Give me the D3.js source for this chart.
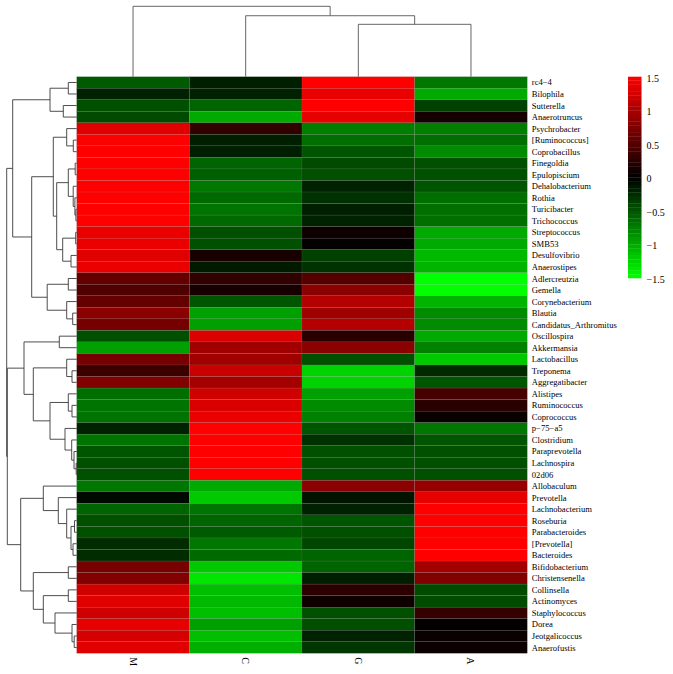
<!DOCTYPE html>
<html><head><meta charset="utf-8">
<script src="https://cdn.jsdelivr.net/npm/d3@7"></script>
<style>
body{margin:0;background:#fff;}
text{font-family:"Liberation Serif","DejaVu Serif",serif;fill:#000;}
</style>
</head><body>
<svg id="chart" width="673" height="674"></svg>
<script>
// ---------- data ----------
const rowNames = ["rc4\u22124","Bilophila","Sutterella","Anaerotruncus","Psychrobacter","[Ruminococcus]","Coprobacillus","Finegoldia","Epulopiscium","Dehalobacterium","Rothia","Turicibacter","Trichococcus","Streptococcus","SMB53","Desulfovibrio","Anaerostipes","Adlercreutzia","Gemella","Corynebacterium","Blautia","Candidatus_Arthromitus","Oscillospira","Akkermansia","Lactobacillus","Treponema","Aggregatibacter","Alistipes","Ruminococcus","Coprococcus","p\u221275\u2212a5","Clostridium","Paraprevotella","Lachnospira","02d06","Allobaculum","Prevotella","Lachnobacterium","Roseburia","Parabacteroides","[Prevotella]","Bacteroides","Bifidobacterium","Christensenella","Collinsella","Actinomyces","Staphylococcus","Dorea","Jeotgalicoccus","Anaerofustis"];
const colNames = ["M","C","G","A"];
const valM = [-0.53,-0.2,-0.47,-0.44,1.32,1.5,1.5,1.5,1.5,1.5,1.5,1.5,1.5,1.38,1.38,1.32,1.38,0.59,0.47,0.59,0.82,0.68,-0.47,-0.94,0.7,0.35,0.76,-0.65,-0.68,-0.68,-0.2,-0.68,-0.5,-0.47,-0.47,-0.7,-0.05,-0.59,-0.47,-0.47,-0.26,-0.26,0.7,0.76,1.21,1.32,1.21,1.35,1.26,1.32];
const valC = [-0.18,-0.2,-0.59,-1.0,0.29,-0.18,-0.18,-0.59,-0.56,-0.7,-0.62,-0.68,-0.62,-0.47,-0.47,0.15,-0.15,0.29,0.15,-0.5,-0.94,-0.94,1.29,0.94,0.94,1.18,0.97,1.21,1.29,1.38,1.5,1.5,1.5,1.5,1.5,-1.0,-1.18,-0.68,-0.59,-0.53,-0.7,-0.62,-1.18,-1.35,-1.12,-1.09,-1.12,-0.94,-1.12,-1.03];
const valG = [1.5,1.38,1.5,1.35,-0.74,-0.65,-0.5,-0.44,-0.47,-0.2,-0.29,-0.18,-0.2,0.09,0.03,-0.38,-0.29,0.5,0.82,1.06,0.94,1.06,0.24,0.82,-0.47,-1.24,-1.24,-0.94,-0.82,-0.76,-0.5,-0.29,-0.47,-0.47,-0.47,0.82,-0.12,-0.2,-0.5,-0.47,-0.41,-0.59,-0.59,-0.18,0.26,0.09,-0.47,-0.47,-0.2,-0.32];
const valA = [-0.7,-1.0,-0.38,0.12,-0.74,-0.65,-0.82,-0.47,-0.47,-0.5,-0.65,-0.65,-0.65,-1.0,-1.0,-1.09,-1.06,-1.5,-1.5,-1.06,-0.82,-0.82,-1.0,-0.76,-1.18,-0.24,-0.5,0.41,0.24,0.06,-0.7,-0.5,-0.47,-0.47,-0.47,0.88,1.35,1.5,1.5,1.5,1.5,1.5,0.97,0.76,-0.44,-0.44,0.32,0.02,0.06,0.06];
const legendTicks = [1.5,1,0.5,0,-0.5,-1,-1.5];
const legendLabels = ["1.5","1","0.5","0","\u22120.5","\u22121","\u22121.5"];

// dendrograms: [height, left, right]; leaves are names
const colTree = [10, "M", [8.66, "C", [7.44, "G", "A"]]];
const R = rowNames;
const rowTree = [70,
  [64,
    [26.7, [8.4, R[0], R[1]], [13.4, R[2], R[3]]],
    [45,
      [23.4,
        [10, R[4], [3.4, R[5], R[6]]],
        [20,
          [8.4, [1.5, R[7], R[8]], [3.5, R[9], [1.8, R[10], [0.8, R[11], R[12]]]]],
          [14, [1, R[13], R[14]], [5.7, R[15], R[16]]]]],
      [29.5, [8.4, R[17], R[18]], [10, R[19], [4, R[20], R[21]]]]]],
  [69.4,
    [52.7,
      [17.4, R[22], R[23]],
      [43.4,
        [10, R[24], [4.7, R[25], R[26]]],
        [26.7,
          [8.4, R[27], [4.7, R[28], R[29]]],
          [11.7, R[30], [5, R[31], [2.7, R[32], [0.5, R[33], R[34]]]]]]]],
    [56,
      [33.4, R[35], [18.4, R[36], [10, R[37], [5.7, [2.2, R[38], R[39]], [3.7, R[40], R[41]]]]]],
      [43.4, [8.4, R[42], R[43]], [33.4, [8.4, R[44], R[45]], [21.7, R[46], [4.7, R[47], [2.5, R[48], R[49]]]]]]]]];

// ---------- layout ----------
const svg = d3.select("#chart");
const hmLeft = 76.7, hmRight = 527.3, hmTop = 76.7, hmBottom = 653.3;
const x = d3.scaleBand().domain(colNames).range([hmLeft, hmRight]);
const y = d3.scaleBand().domain(rowNames).range([hmTop, hmBottom]);
const color = d3.scaleLinear().domain([-1.5,0,1.5]).range(["#00ff00","#000000","#ff0000"]).clamp(true);
const colVals = {M: valM, C: valC, G: valG, A: valA};

const cells = [];
rowNames.forEach((r,i) => colNames.forEach(c => cells.push({r, c, v: colVals[c][i]})));

svg.append("g").selectAll("rect").data(cells).join("rect")
  .attr("x", d => x(d.c)).attr("y", d => y(d.r))
  .attr("width", x.bandwidth()).attr("height", y.bandwidth())
  .attr("fill", d => color(d.v))
  .attr("stroke", "rgba(140,140,140,0.35)").attr("stroke-width", 0.4);

// row labels
svg.append("g").selectAll("text").data(rowNames).join("text")
  .attr("x", hmRight + 4.5).attr("y", d => y(d) + y.bandwidth()/2)
  .attr("dominant-baseline", "central")
  .attr("font-size", "8.6px").text(d => d);

// column labels
svg.append("g").selectAll("text").data(colNames).join("text")
  .attr("transform", d => `translate(${x(d) + x.bandwidth()/2},${hmBottom + 4}) rotate(90)`)
  .attr("dominant-baseline", "central")
  .attr("font-size", "10px").text(d => d);

// ---------- dendrograms ----------
function buildTree(tree) {
  const root = d3.hierarchy(tree, d => Array.isArray(d) ? d.slice(1) : null);
  root.eachAfter(n => {
    n.h = Array.isArray(n.data) ? n.data[0] : 0;
  });
  return root;
}
// row dendrogram
const rowRoot = buildTree(rowTree);
const hx = d3.scaleLinear().domain([0, 70]).range([hmLeft, 6.7]);
rowRoot.eachAfter(n => {
  n.pos = n.children ? d3.mean(n.children, c => c.pos) : y(n.data) + y.bandwidth()/2;
});
const rowLinks = rowRoot.descendants().filter(n => n.children);
svg.append("g").selectAll("path").data(rowLinks).join("path")
  .attr("fill", "none").attr("stroke", "#3a3a3a").attr("stroke-width", 0.9)
  .attr("d", n => {
    const [a, b] = n.children;
    const xn = hx(n.h);
    return `M${hx(a.h)},${a.pos}H${xn}V${b.pos}H${hx(b.h)}`;
  });

// column dendrogram
const colRoot = buildTree(colTree);
const hy = d3.scaleLinear().domain([0, 10]).range([hmTop, 6.3]);
colRoot.eachAfter(n => {
  n.pos = n.children ? d3.mean(n.children, c => c.pos) : x(n.data) + x.bandwidth()/2;
});
svg.append("g").selectAll("path").data(colRoot.descendants().filter(n => n.children)).join("path")
  .attr("fill", "none").attr("stroke", "#555").attr("stroke-width", 0.9)
  .attr("d", n => {
    const [a, b] = n.children;
    const yn = hy(n.h);
    return `M${a.pos},${hy(a.h)}V${yn}H${b.pos}V${hy(b.h)}`;
  });

// ---------- legend ----------
const legX = 628, legW = 13.5;
const ly = d3.scaleLinear().domain([1.5, -1.5]).range([76.7, 278]);
const nSteps = 54;
const steps = d3.range(nSteps).map(i => 1.5 - (i + 0.5) * 3 / nSteps);
svg.append("g").selectAll("rect").data(steps).join("rect")
  .attr("x", legX).attr("width", legW)
  .attr("y", d => ly(d + 1.5/nSteps))
  .attr("height", d => ly(d - 1.5/nSteps) - ly(d + 1.5/nSteps) + 0.3)
  .attr("fill", d => color(d));
svg.append("g").selectAll("text").data(legendTicks).join("text")
  .attr("x", legX + legW + 5).attr("y", d => ly(d) + 1.5)
  .attr("dominant-baseline", "central")
  .attr("font-size", "10px")
  .text((d,i) => legendLabels[i]);
</script>
</body></html>
